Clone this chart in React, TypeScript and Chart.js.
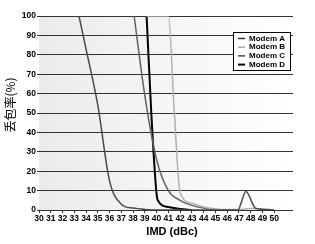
import React, { useEffect, useRef } from "react";
import { Chart, registerables } from "chart.js";

Chart.register(...registerables);

const seriesNames = ["Modem A", "Modem B", "Modem C", "Modem D"];
const seriesColors = ["#4a4a4a", "#b0b0b0", "#606060", "#000000"];
const legendColors = ["#333333", "#aaaaaa", "#444444", "#000000"];
const seriesWidths = [1.5, 1.5, 1.5, 2];

const modemA = [
  { x: 33.4, y: 100 }, { x: 34, y: 83 }, { x: 35, y: 54 }, { x: 36, y: 15 },
  { x: 37, y: 3 }, { x: 38, y: 1 }, { x: 39, y: 0.3 }, { x: 40, y: 0 },
  { x: 46.9, y: 0 }, { x: 47.6, y: 9.5 }, { x: 48.4, y: 1 }, { x: 49.1, y: 0.3 }, { x: 50, y: 0 },
];
const modemB = [
  { x: 39.1, y: 100 }, { x: 41, y: 100 }, { x: 41.5, y: 51 }, { x: 42, y: 9 },
  { x: 43, y: 3.5 }, { x: 44, y: 1.5 }, { x: 45, y: 0.5 }, { x: 46, y: 0.2 },
  { x: 47, y: 0.2 }, { x: 48, y: 0.8 }, { x: 49, y: 0.5 }, { x: 50, y: 0 },
];
const modemC = [
  { x: 38.09, y: 100 }, { x: 39, y: 59 }, { x: 40, y: 26 }, { x: 41, y: 10 },
  { x: 42, y: 5 }, { x: 43, y: 2.4 }, { x: 44, y: 1 }, { x: 45, y: 0.3 }, { x: 46, y: 0 },
];
const modemD = [
  { x: 39.15, y: 100 }, { x: 39.55, y: 50 }, { x: 39.97, y: 10 }, { x: 40.1, y: 5 },
  { x: 41, y: 1.5 }, { x: 42, y: 0.5 }, { x: 43, y: 0 },
];
const seriesData = [modemA, modemB, modemC, modemD];

const xTickValues = Array.from({ length: 21 }, (_, i) => 30 + i);
const yTitle = "丢包率(%)";
const xTitle = "IMD (dBc)";

export default function App() {
  const ref = useRef<HTMLCanvasElement | null>(null);
  useEffect(() => {
    if (!ref.current) return;
    const decor = {
      id: "decor",
      beforeDatasetsDraw(chart: any) {},
      beforeDraw(chart: any) {
        const { ctx, chartArea: a } = chart;
        ctx.save();
        const g = ctx.createLinearGradient(a.left, 0, a.right, 0);
        g.addColorStop(0, "#ebebeb");
        g.addColorStop(1, "#ffffff");
        ctx.fillStyle = g;
        ctx.fillRect(a.left, a.top, a.right - a.left, a.bottom - a.top);
        ctx.restore();
      },
      afterDraw(chart: any) {
        const { ctx, chartArea: a } = chart;
        ctx.save();
        // y title
        ctx.translate(10, 105);
        ctx.rotate(-Math.PI / 2);
        ctx.fillStyle = "#000";
        ctx.font = "12px 'Noto Sans CJK SC'";
        ctx.textAlign = "center";
        ctx.textBaseline = "middle";
        ctx.fillText(yTitle, 0, 0);
        ctx.restore();
        // x title
        ctx.save();
        ctx.fillStyle = "#000";
        ctx.font = "bold 11px 'Liberation Sans'";
        ctx.textAlign = "center";
        ctx.textBaseline = "middle";
        ctx.fillText(xTitle, 172, 232);
        ctx.restore();
        // legend
        ctx.save();
        const bx = 233.5, by = 32.5, bw = 57, bh = 38;
        ctx.fillStyle = "#fff";
        ctx.fillRect(bx, by, bw, bh);
        ctx.strokeStyle = "#000";
        ctx.lineWidth = 1;
        ctx.strokeRect(bx, by, bw, bh);
        ctx.font = "bold 8px 'Liberation Sans'";
        ctx.textBaseline = "middle";
        ctx.textAlign = "left";
        seriesNames.forEach((n, i) => {
          const y = 38.5 + i * 8.7;
          ctx.strokeStyle = legendColors[i];
          ctx.lineWidth = i === 3 ? 2 : 1.5;
          ctx.beginPath();
          ctx.moveTo(238, y);
          ctx.lineTo(245, y);
          ctx.stroke();
          ctx.fillStyle = "#000";
          ctx.fillText(n, 249, y);
        });
        ctx.restore();
      },
    };
    const chart = new Chart(ref.current, {
      type: "line",
      data: {
        datasets: seriesData.map((d, i) => ({
          label: seriesNames[i],
          data: d,
          borderColor: seriesColors[i],
          backgroundColor: seriesColors[i],
          borderWidth: seriesWidths[i],
          pointRadius: 0,
          fill: false,
          cubicInterpolationMode: "monotone" as const,
        })),
      },
      options: {
        animation: false,
        responsive: false,
        layout: { padding: { top: 16, right: 22, left: 0, bottom: 0 } },
        plugins: { legend: { display: false }, tooltip: { enabled: false } },
        scales: {
          x: {
            type: "linear",
            min: 30,
            max: 51.6,
            afterBuildTicks: (scale: any) => {
              scale.ticks = xTickValues.map((v) => ({ value: v }));
            },
            afterFit: (scale: any) => {
              scale.height = 34;
            },
            ticks: {
              autoSkip: false,
              maxRotation: 0,
              minRotation: 0,
              padding: 1,
              color: "#000",
              font: { family: "Liberation Sans", size: 8.5, weight: "bold" },
            },
            grid: { drawOnChartArea: false, drawTicks: true, tickLength: 3, color: "#333" },
            border: { display: false },
          },
          y: {
            min: 0,
            max: 100,
            afterFit: (scale: any) => {
              scale.width = 39;
            },
            ticks: {
              stepSize: 10,
              padding: 1,
              color: "#000",
              font: { family: "Liberation Sans", size: 8.5, weight: "bold" },
            },
            grid: { color: "#333", tickLength: 2, drawTicks: true },
            border: { display: false },
          },
        },
      },
      plugins: [decor],
    } as any);
    return () => chart.destroy();
  }, []);
  return (
    <div style={{ position: "fixed", left: 0, top: 0, width: 315, height: 244, background: "#fff" }}>
      <canvas ref={ref} width={315} height={244} style={{ display: "block" }} />
    </div>
  );
}
